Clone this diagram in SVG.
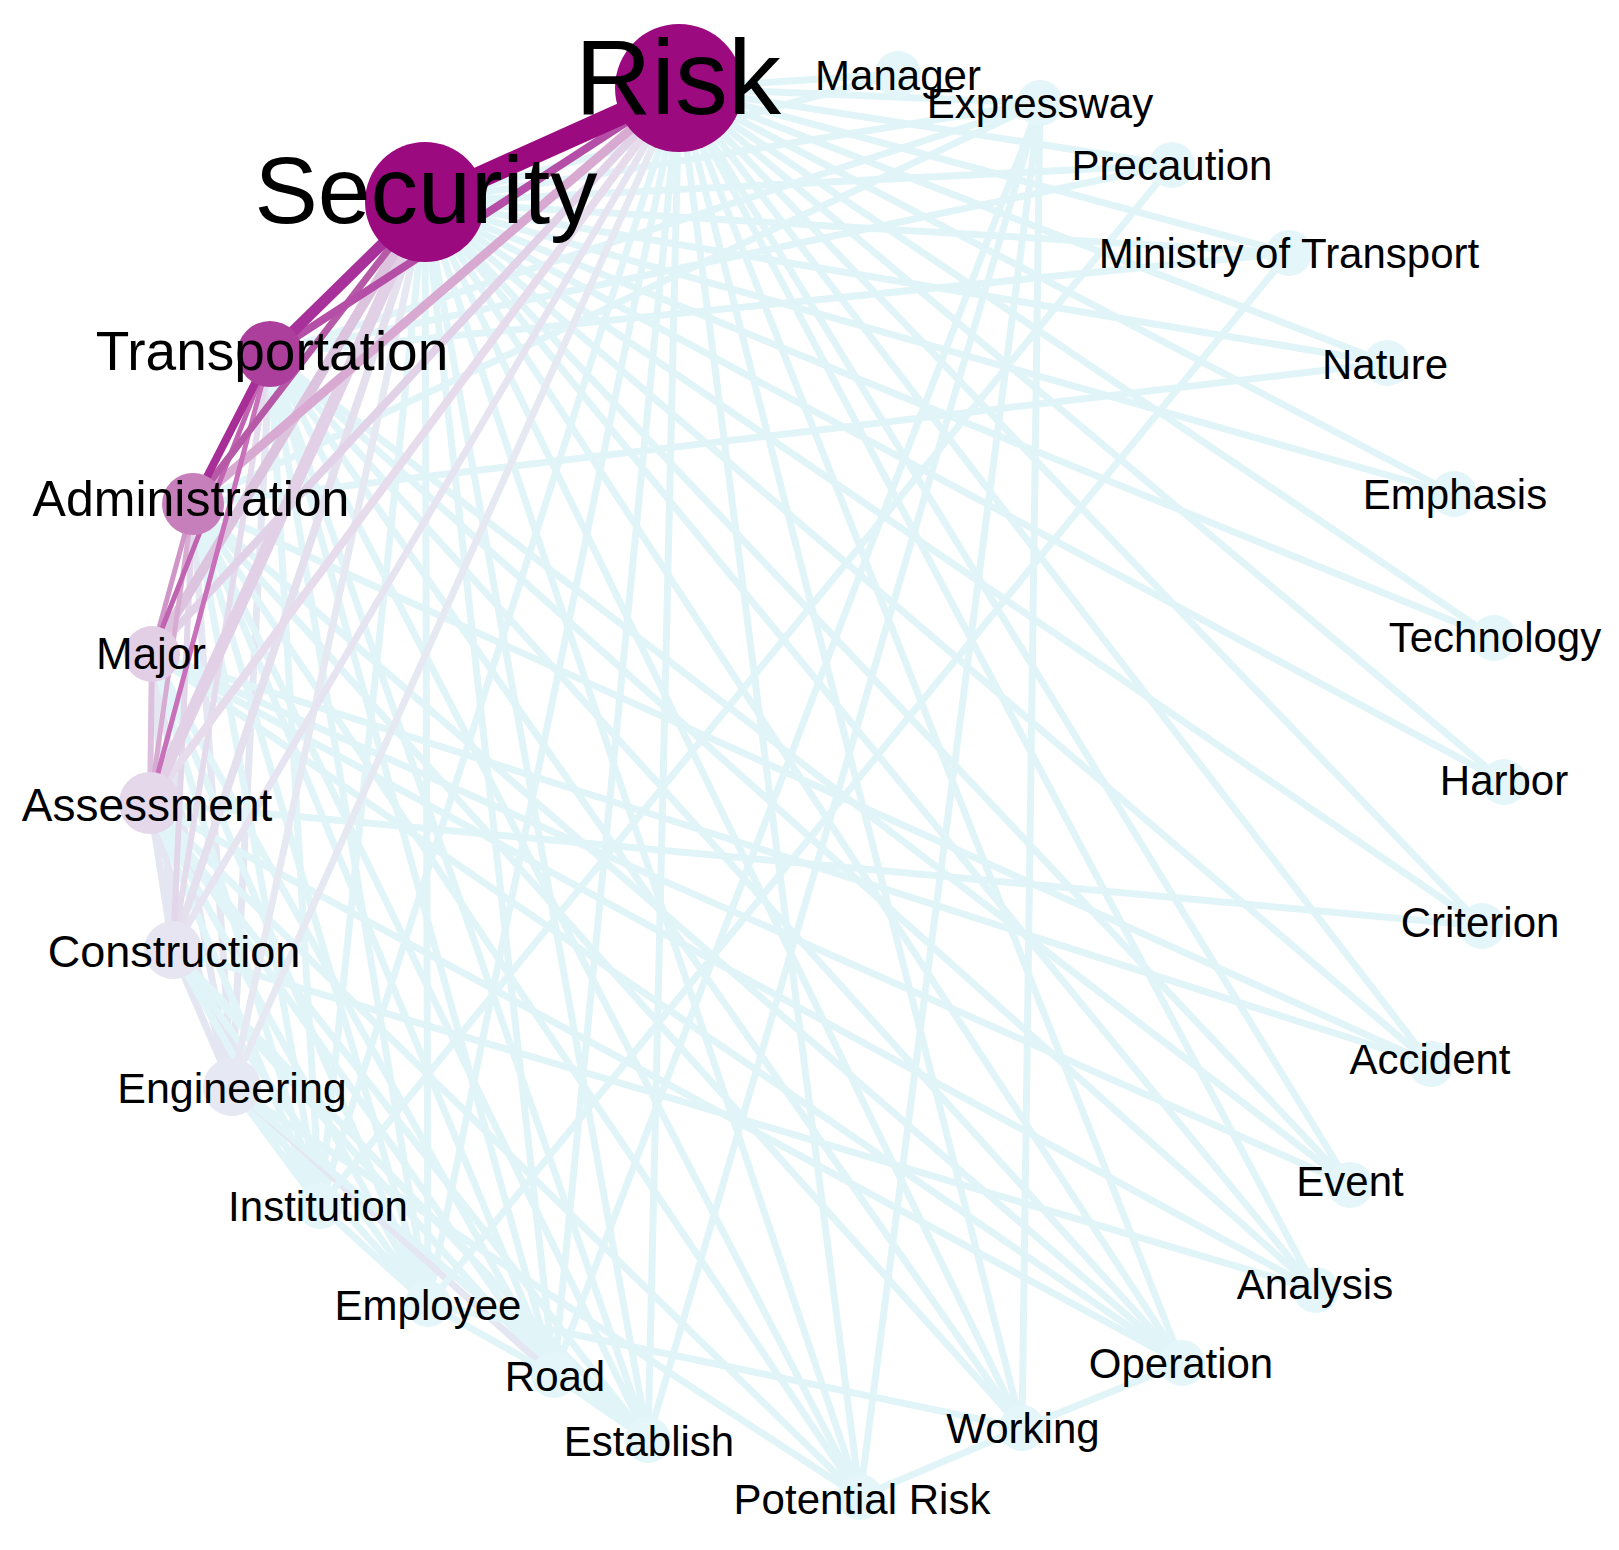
<svg xmlns="http://www.w3.org/2000/svg" width="1619" height="1550" viewBox="0 0 1619 1550">
<style>
.e{stroke:#e1f5f9;stroke-width:7;stroke-linecap:round;fill:none}
.el{stroke:#e4e6f2;stroke-width:7;stroke-linecap:round;fill:none}
.p{stroke-linecap:round;fill:none}
.n{fill:#e4f6fa}
text{font-family:"Liberation Sans",Arial,sans-serif;fill:#000;text-anchor:middle}
.t{font-size:42px}
</style>
<rect width="1619" height="1550" fill="#fff"/>
<g id="connectors">
<line class="e" x1="679" y1="88" x2="320" y2="1206"/>
<line class="e" x1="679" y1="88" x2="428" y2="1304"/>
<line class="e" x1="679" y1="88" x2="554" y2="1375"/>
<line class="e" x1="679" y1="88" x2="648" y2="1440"/>
<line class="e" x1="679" y1="88" x2="860" y2="1497"/>
<line class="e" x1="679" y1="88" x2="1022" y2="1428"/>
<line class="e" x1="679" y1="88" x2="1182" y2="1363"/>
<line class="e" x1="679" y1="88" x2="1316" y2="1290"/>
<line class="e" x1="679" y1="88" x2="1350" y2="1185"/>
<line class="e" x1="679" y1="88" x2="1431" y2="1064"/>
<line class="e" x1="679" y1="88" x2="1482" y2="926"/>
<line class="e" x1="679" y1="88" x2="1504" y2="782"/>
<line class="e" x1="679" y1="88" x2="1494" y2="638"/>
<line class="e" x1="679" y1="88" x2="1454" y2="494"/>
<line class="e" x1="679" y1="88" x2="1387" y2="363"/>
<line class="e" x1="679" y1="88" x2="1289" y2="253"/>
<line class="e" x1="679" y1="88" x2="1172" y2="165"/>
<line class="e" x1="679" y1="88" x2="1040" y2="103"/>
<line class="e" x1="679" y1="88" x2="898" y2="74"/>
<line class="e" x1="425" y1="202" x2="320" y2="1206"/>
<line class="e" x1="425" y1="202" x2="428" y2="1304"/>
<line class="e" x1="425" y1="202" x2="554" y2="1375"/>
<line class="e" x1="425" y1="202" x2="648" y2="1440"/>
<line class="e" x1="425" y1="202" x2="860" y2="1497"/>
<line class="e" x1="425" y1="202" x2="1022" y2="1428"/>
<line class="e" x1="425" y1="202" x2="1182" y2="1363"/>
<line class="e" x1="425" y1="202" x2="1316" y2="1290"/>
<line class="e" x1="425" y1="202" x2="1350" y2="1185"/>
<line class="e" x1="425" y1="202" x2="1431" y2="1064"/>
<line class="e" x1="425" y1="202" x2="1482" y2="926"/>
<line class="e" x1="425" y1="202" x2="1504" y2="782"/>
<line class="e" x1="425" y1="202" x2="1494" y2="638"/>
<line class="e" x1="425" y1="202" x2="1454" y2="494"/>
<line class="e" x1="425" y1="202" x2="1387" y2="363"/>
<line class="e" x1="425" y1="202" x2="1289" y2="253"/>
<line class="e" x1="425" y1="202" x2="1172" y2="165"/>
<line class="e" x1="425" y1="202" x2="1040" y2="103"/>
<line class="e" x1="425" y1="202" x2="898" y2="74"/>
<line class="el" x1="270" y1="354" x2="232" y2="1087"/>
<line class="e" x1="270" y1="354" x2="320" y2="1206"/>
<line class="e" x1="270" y1="354" x2="428" y2="1304"/>
<line class="e" x1="270" y1="354" x2="554" y2="1375"/>
<line class="e" x1="270" y1="354" x2="648" y2="1440"/>
<line class="e" x1="270" y1="354" x2="860" y2="1497"/>
<line class="e" x1="270" y1="354" x2="1022" y2="1428"/>
<line class="e" x1="270" y1="354" x2="1182" y2="1363"/>
<line class="e" x1="270" y1="354" x2="1316" y2="1290"/>
<line class="e" x1="270" y1="354" x2="1350" y2="1185"/>
<line class="e" x1="270" y1="354" x2="1040" y2="103"/>
<line class="e" x1="270" y1="354" x2="1172" y2="165"/>
<line class="e" x1="270" y1="354" x2="1289" y2="253"/>
<line class="el" x1="193" y1="504" x2="232" y2="1087"/>
<line class="e" x1="193" y1="504" x2="320" y2="1206"/>
<line class="e" x1="193" y1="504" x2="428" y2="1304"/>
<line class="e" x1="193" y1="504" x2="554" y2="1375"/>
<line class="e" x1="193" y1="504" x2="648" y2="1440"/>
<line class="e" x1="193" y1="504" x2="860" y2="1497"/>
<line class="e" x1="193" y1="504" x2="1022" y2="1428"/>
<line class="e" x1="193" y1="504" x2="1182" y2="1363"/>
<line class="e" x1="193" y1="504" x2="1431" y2="1064"/>
<line class="e" x1="193" y1="504" x2="1387" y2="363"/>
<line class="e" x1="193" y1="504" x2="1040" y2="103"/>
<line class="el" x1="152" y1="654" x2="173" y2="950"/>
<line class="el" x1="152" y1="654" x2="232" y2="1087"/>
<line class="e" x1="152" y1="654" x2="320" y2="1206"/>
<line class="e" x1="152" y1="654" x2="428" y2="1304"/>
<line class="e" x1="152" y1="654" x2="554" y2="1375"/>
<line class="e" x1="152" y1="654" x2="1431" y2="1064"/>
<line class="e" x1="152" y1="654" x2="1350" y2="1185"/>
<line class="e" x1="152" y1="654" x2="1316" y2="1290"/>
<line class="e" x1="152" y1="654" x2="1182" y2="1363"/>
<line class="el" x1="150" y1="803" x2="173" y2="950"/>
<line class="el" x1="150" y1="803" x2="232" y2="1087"/>
<line class="e" x1="150" y1="803" x2="320" y2="1206"/>
<line class="e" x1="150" y1="803" x2="428" y2="1304"/>
<line class="e" x1="150" y1="803" x2="554" y2="1375"/>
<line class="e" x1="150" y1="803" x2="648" y2="1440"/>
<line class="e" x1="150" y1="803" x2="860" y2="1497"/>
<line class="e" x1="150" y1="803" x2="1182" y2="1363"/>
<line class="e" x1="150" y1="803" x2="1482" y2="926"/>
<line class="el" x1="173" y1="950" x2="232" y2="1087"/>
<line class="e" x1="173" y1="950" x2="320" y2="1206"/>
<line class="e" x1="173" y1="950" x2="428" y2="1304"/>
<line class="e" x1="173" y1="950" x2="554" y2="1375"/>
<line class="e" x1="173" y1="950" x2="648" y2="1440"/>
<line class="e" x1="173" y1="950" x2="1316" y2="1290"/>
<line class="e" x1="232" y1="1087" x2="320" y2="1206"/>
<line class="e" x1="232" y1="1087" x2="428" y2="1304"/>
<line class="el" x1="232" y1="1087" x2="554" y2="1375"/>
<line class="e" x1="232" y1="1087" x2="648" y2="1440"/>
<line class="e" x1="232" y1="1087" x2="860" y2="1497"/>
<line class="e" x1="428" y1="1304" x2="1022" y2="1428"/>
<line class="e" x1="860" y1="1497" x2="1022" y2="1428"/>
<line class="e" x1="1022" y1="1428" x2="1182" y2="1363"/>
<line class="e" x1="1040" y1="103" x2="648" y2="1440"/>
<line class="e" x1="1040" y1="103" x2="860" y2="1497"/>
<line class="e" x1="1040" y1="103" x2="554" y2="1375"/>
<line class="e" x1="1040" y1="103" x2="1022" y2="1428"/>
<line class="e" x1="1172" y1="165" x2="320" y2="1206"/>
<line class="e" x1="1289" y1="253" x2="428" y2="1304"/>
<line class="e" x1="320" y1="1206" x2="428" y2="1304"/>
<line class="e" x1="428" y1="1304" x2="554" y2="1375"/>
<line class="e" x1="554" y1="1375" x2="648" y2="1440"/>
<line class="p" x1="425" y1="202" x2="232" y2="1087" stroke="#e6e8f2" stroke-width="7"/>
<line class="p" x1="679" y1="88" x2="232" y2="1087" stroke="#e6e8f2" stroke-width="7"/>
<line class="p" x1="679" y1="88" x2="173" y2="950" stroke="#e6e4f0" stroke-width="7"/>
<line class="p" x1="425" y1="202" x2="173" y2="950" stroke="#e4e0ee" stroke-width="8"/>
<line class="p" x1="270" y1="354" x2="173" y2="950" stroke="#e4dcec" stroke-width="6"/>
<line class="p" x1="193" y1="504" x2="173" y2="950" stroke="#e2d6ea" stroke-width="6"/>
<line class="p" x1="679" y1="88" x2="150" y2="803" stroke="#e6dcec" stroke-width="8"/>
<line class="p" x1="679" y1="88" x2="152" y2="654" stroke="#e2d2e8" stroke-width="8"/>
<line class="p" x1="425" y1="202" x2="150" y2="803" stroke="#e2d0e6" stroke-width="12"/>
<line class="p" x1="425" y1="202" x2="152" y2="654" stroke="#dcc4de" stroke-width="10"/>
<line class="p" x1="152" y1="654" x2="150" y2="803" stroke="#dcc0de" stroke-width="6"/>
<line class="p" x1="193" y1="504" x2="150" y2="803" stroke="#d8acd2" stroke-width="5"/>
<line class="p" x1="193" y1="504" x2="152" y2="654" stroke="#d096c8" stroke-width="5"/>
<line class="p" x1="679" y1="88" x2="193" y2="504" stroke="#d8aad2" stroke-width="9"/>
<line class="p" x1="270" y1="354" x2="150" y2="803" stroke="#c870b9" stroke-width="5"/>
<line class="p" x1="270" y1="354" x2="152" y2="654" stroke="#c064b2" stroke-width="5"/>
<line class="p" x1="425" y1="202" x2="193" y2="504" stroke="#b65aa8" stroke-width="7"/>
<line class="p" x1="679" y1="88" x2="270" y2="354" stroke="#b54ea6" stroke-width="8"/>
<line class="p" x1="270" y1="354" x2="193" y2="504" stroke="#a62e96" stroke-width="8"/>
<line class="p" x1="425" y1="202" x2="270" y2="354" stroke="#a8309a" stroke-width="11"/>
<line class="p" x1="679" y1="88" x2="425" y2="202" stroke="#9b0a7f" stroke-width="22"/>
</g>
<g id="node-risk"><circle cx="679" cy="88" r="64" fill="#9b0a7f"/><text x="678" y="114" font-size="106">Risk</text></g>
<g id="node-security"><circle cx="425" cy="202" r="60" fill="#9b0a7f"/><text x="426" y="223" font-size="95">Security</text></g>
<g id="node-transportation"><circle cx="270" cy="354" r="33" fill="#ad3f9c"/><text x="272" y="370" font-size="55">Transportation</text></g>
<g id="node-administration"><circle cx="193" cy="504" r="31" fill="#c77fbb"/><text x="191" y="516" font-size="50">Administration</text></g>
<g id="node-major"><circle cx="152" cy="654" r="28" fill="#e2cfe6"/><text x="151" y="669" font-size="44">Major</text></g>
<g id="node-assessment"><circle cx="150" cy="803" r="31" fill="#e4d8ea"/><text x="147" y="821" font-size="46">Assessment</text></g>
<g id="node-construction"><circle cx="173" cy="950" r="29" fill="#e6e5f1"/><text x="174" y="967" font-size="45">Construction</text></g>
<g id="node-engineering"><circle cx="232" cy="1087" r="29" fill="#e6e9f3"/><text x="232" y="1103" font-size="43">Engineering</text></g>
<g id="node-institution"><circle class="n" cx="320" cy="1206" r="23"/><text class="t" x="318" y="1221">Institution</text></g>
<g id="node-employee"><circle class="n" cx="428" cy="1304" r="23"/><text class="t" x="428" y="1320">Employee</text></g>
<g id="node-road"><circle class="n" cx="554" cy="1375" r="23"/><text class="t" x="555" y="1391">Road</text></g>
<g id="node-establish"><circle class="n" cx="648" cy="1440" r="23"/><text class="t" x="649" y="1456">Establish</text></g>
<g id="node-potential-risk"><circle class="n" cx="860" cy="1497" r="23"/><text class="t" x="862" y="1514">Potential Risk</text></g>
<g id="node-working"><circle class="n" cx="1022" cy="1428" r="23"/><text class="t" x="1023" y="1443">Working</text></g>
<g id="node-operation"><circle class="n" cx="1182" cy="1363" r="23"/><text class="t" x="1181" y="1378">Operation</text></g>
<g id="node-analysis"><circle class="n" cx="1316" cy="1290" r="23"/><text class="t" x="1315" y="1299">Analysis</text></g>
<g id="node-event"><circle class="n" cx="1350" cy="1185" r="23"/><text class="t" x="1350" y="1196">Event</text></g>
<g id="node-accident"><circle class="n" cx="1431" cy="1064" r="23"/><text class="t" x="1430" y="1074">Accident</text></g>
<g id="node-criterion"><circle class="n" cx="1482" cy="926" r="23"/><text class="t" x="1480" y="937">Criterion</text></g>
<g id="node-harbor"><circle class="n" cx="1504" cy="782" r="23"/><text class="t" x="1504" y="795">Harbor</text></g>
<g id="node-technology"><circle class="n" cx="1494" cy="638" r="23"/><text class="t" x="1495" y="652">Technology</text></g>
<g id="node-emphasis"><circle class="n" cx="1454" cy="494" r="23"/><text class="t" x="1455" y="509">Emphasis</text></g>
<g id="node-nature"><circle class="n" cx="1387" cy="363" r="23"/><text class="t" x="1385" y="379">Nature</text></g>
<g id="node-ministry"><circle class="n" cx="1289" cy="253" r="23"/><text class="t" x="1289" y="268" font-size="40">Ministry of Transport</text></g>
<g id="node-precaution"><circle class="n" cx="1172" cy="165" r="23"/><text class="t" x="1172" y="180">Precaution</text></g>
<g id="node-expressway"><circle class="n" cx="1040" cy="103" r="23"/><text class="t" x="1040" y="118">Expressway</text></g>
<g id="node-manager"><circle class="n" cx="898" cy="74" r="23"/><text class="t" x="898" y="90" font-size="40">Manager</text></g>
</svg>
